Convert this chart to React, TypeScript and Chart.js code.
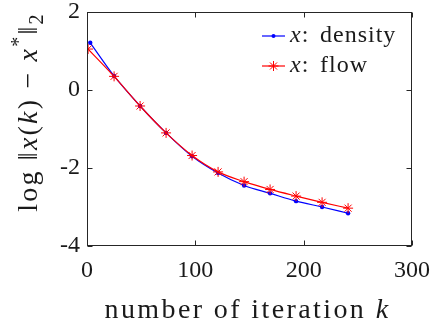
import React, { useEffect, useRef } from "react";
import { Chart, registerables } from "chart.js";

Chart.register(...registerables);

// ---- data ----
const iterationsDensity = [3, 25, 49, 73, 97, 121, 145, 169, 193, 217, 241];
const densityErr = [1.21, 0.36, -0.41, -1.1, -1.7, -2.13, -2.45, -2.65, -2.85, -3.0, -3.16];
const iterationsFlow = [1, 25, 49, 73, 97, 121, 145, 169, 193, 217, 241];
const flowErr = [1.05, 0.35, -0.41, -1.1, -1.68, -2.1, -2.35, -2.55, -2.72, -2.88, -3.03];
const xTicks = [0, 100, 200, 300];
const yTicks = [-4, -2, 0, 2];
const seriesNames = ["density", "flow"];

type Seg = { t: string; it?: boolean; sup?: boolean; sub?: boolean };
const xTitleSegs: Seg[] = [{ t: "number of iteration " }, { t: "k", it: true }];
const yTitleSegs: Seg[] = [
  { t: "log " },
  { t: "\u2016" },
  { t: "x", it: true },
  { t: "(" },
  { t: "k", it: true },
  { t: ")" },
  { t: " \u2212 " },
  { t: "x", it: true },
  { t: "*", sup: true },
  { t: "\u2016" },
  { t: "2", sub: true },
];

const FAMILY = "'Liberation Serif', 'Times New Roman', serif";
const AXIS_COLOR = "#262626";

function segFont(s: Seg, size: number) {
  const sz = s.sup || s.sub ? Math.round(size * 0.7) : size;
  return `${s.it ? "italic " : ""}${sz}px ${FAMILY}`;
}

function richWidth(ctx: CanvasRenderingContext2D, segs: Seg[], size: number, ls: number) {
  let w = 0;
  for (const s of segs) {
    ctx.font = segFont(s, size);
    (ctx as any).letterSpacing = `${ls}px`;
    w += ctx.measureText(s.t).width;
  }
  return w;
}

function drawRich(ctx: CanvasRenderingContext2D, segs: Seg[], x: number, y: number, size: number, ls: number) {
  let cx = x;
  ctx.textAlign = "left";
  ctx.textBaseline = "alphabetic";
  for (const s of segs) {
    ctx.font = segFont(s, size);
    (ctx as any).letterSpacing = `${ls}px`;
    const dy = s.sup ? -size * 0.42 : s.sub ? size * 0.22 : 0;
    ctx.fillText(s.t, cx, y + dy);
    cx += ctx.measureText(s.t).width;
  }
  return cx;
}

const decorPlugin = {
  id: "decor",
  afterDraw(chart: any) {
    const { ctx, chartArea } = chart;
    const { left, right, top, bottom } = chartArea;
    const xs = chart.scales.x;
    const ys = chart.scales.y;
    ctx.save();
    // frame box
    ctx.strokeStyle = AXIS_COLOR;
    ctx.lineWidth = 1;
    const L = Math.round(left) + 0.5;
    const R = Math.round(right) - 0.5;
    const T = Math.round(top) + 0.5;
    const B = Math.round(bottom) - 0.5;
    ctx.strokeRect(L, T, R - L, B - T);
    const tl = 5;
    ctx.beginPath();
    for (const v of xTicks) {
      const px = Math.round(xs.getPixelForValue(v)) + 0.5;
      ctx.moveTo(px, B);
      ctx.lineTo(px, B - tl);
      ctx.moveTo(px, T);
      ctx.lineTo(px, T + tl);
    }
    for (const v of yTicks) {
      const py = Math.round(ys.getPixelForValue(v)) + 0.5;
      ctx.moveTo(L, py);
      ctx.lineTo(L + tl, py);
      ctx.moveTo(R, py);
      ctx.lineTo(R - tl, py);
    }
    ctx.stroke();

    // axis titles
    ctx.fillStyle = "#1a1a1a";
    const titleSize = 28;
    const xls = 2.4;
    const xw = richWidth(ctx, xTitleSegs, titleSize, xls);
    drawRich(ctx, xTitleSegs, (left + right) / 2 - 2 - xw / 2, 318, titleSize, xls);

    const yls = 2.2;
    const yw = richWidth(ctx, yTitleSegs, titleSize, yls);
    ctx.save();
    ctx.translate(37, (top + bottom) / 2 - 17);
    ctx.rotate(-Math.PI / 2);
    drawRich(ctx, yTitleSegs, -yw / 2, 0, titleSize, yls);
    ctx.restore();

    // legend
    const datasets = chart.data.datasets;
    const legSize = 24;
    for (let i = 0; i < datasets.length; i++) {
      const ds = datasets[i];
      const rowY = top + 24 + 30 * i;
      const x0 = right - 150;
      const x1 = right - 127;
      ctx.strokeStyle = ds.borderColor;
      ctx.fillStyle = ds.borderColor;
      ctx.lineWidth = 1.2;
      ctx.beginPath();
      ctx.moveTo(x0, rowY);
      ctx.lineTo(x1, rowY);
      ctx.stroke();
      const mx = (x0 + x1) / 2;
      if (ds.pointStyle === "star") {
        const r = 5;
        ctx.lineWidth = 1;
        ctx.beginPath();
        for (let a = 0; a < 4; a++) {
          const ang = (a * Math.PI) / 4;
          ctx.moveTo(mx - r * Math.cos(ang), rowY - r * Math.sin(ang));
          ctx.lineTo(mx + r * Math.cos(ang), rowY + r * Math.sin(ang));
        }
        ctx.stroke();
      } else {
        ctx.beginPath();
        ctx.arc(mx, rowY, 2, 0, Math.PI * 2);
        ctx.fill();
      }
      ctx.fillStyle = "#1a1a1a";
      const tx = right - 122;
      const baseY = rowY + 6;
      drawRich(ctx, [{ t: "x", it: true }, { t: ":" }], tx, baseY, legSize, 1);
      drawRich(ctx, [{ t: seriesNames[i] }], tx + 30, baseY, legSize, 1);
    }
    ctx.restore();
  },
};

function zeroPadding(s: any) {
  s.paddingTop = 0;
  s.paddingBottom = 0;
  s.paddingLeft = 0;
  s.paddingRight = 0;
}

export default function App() {
  const canvasRef = useRef<HTMLCanvasElement | null>(null);

  useEffect(() => {
    const canvas = canvasRef.current;
    if (!canvas) return;
    const tickFont = { family: FAMILY, size: 24, lineHeight: 1 };
    const chart = new Chart(canvas, {
      type: "line",
      data: {
        datasets: [
          {
            label: seriesNames[0],
            data: iterationsDensity.map((k, i) => ({ x: k, y: densityErr[i] })),
            borderColor: "#0000ff",
            backgroundColor: "#0000ff",
            borderWidth: 1.2,
            pointStyle: "circle",
            pointRadius: 2.2,
            pointBorderWidth: 0,
            cubicInterpolationMode: "monotone",
            order: 1,
          },
          {
            label: seriesNames[1],
            data: iterationsFlow.map((k, i) => ({ x: k, y: flowErr[i] })),
            borderColor: "#ff0000",
            backgroundColor: "#ff0000",
            borderWidth: 1.2,
            pointStyle: "star",
            pointRadius: 5,
            pointBorderWidth: 1,
            cubicInterpolationMode: "monotone",
            order: 0,
          },
        ],
      },
      options: {
        animation: false,
        responsive: true,
        maintainAspectRatio: false,
        layout: { padding: { left: 0, top: 12, right: 19, bottom: 0 } },
        plugins: {
          legend: { display: false },
          tooltip: { enabled: false },
        },
        scales: {
          x: {
            type: "linear",
            min: 0,
            max: 300,
            afterBuildTicks: (s: any) => {
              s.ticks = xTicks.map((v) => ({ value: v }));
            },
            afterFit: (s: any) => {
              s.height = 80;
              zeroPadding(s);
            },
            grid: { display: false, drawTicks: false },
            border: { display: false },
            ticks: { font: tickFont, color: "#1a1a1a", padding: 13, maxRotation: 0, autoSkip: false },
          },
          y: {
            type: "linear",
            min: -4,
            max: 2,
            afterBuildTicks: (s: any) => {
              s.ticks = yTicks.map((v) => ({ value: v }));
            },
            afterFit: (s: any) => {
              s.width = 87;
              zeroPadding(s);
            },
            grid: { display: false, drawTicks: false },
            border: { display: false },
            ticks: { font: tickFont, color: "#1a1a1a", padding: 7, autoSkip: false },
          },
        },
      },
      plugins: [decorPlugin],
    });
    return () => chart.destroy();
  }, []);

  return (
    <div style={{ position: "fixed", left: 0, top: 0, width: 431, height: 326, background: "#fff" }}>
      <canvas ref={canvasRef} />
    </div>
  );
}
